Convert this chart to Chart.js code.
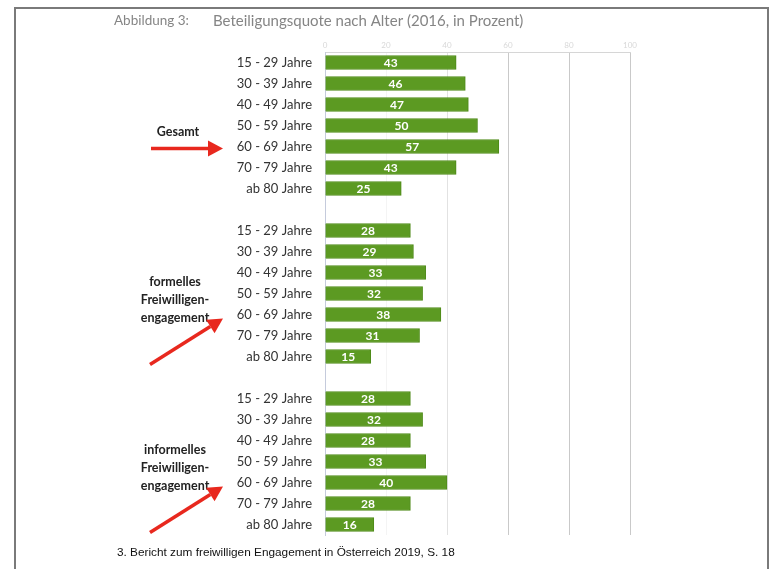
<!DOCTYPE html>
<html>
<head>
<meta charset="utf-8">
<script src="https://cdn.jsdelivr.net/npm/chart.js@4"></script>
<style>
  body { margin: 0; background: #fff; }
  #wrap { width: 769px; height: 569px; position: relative; }
</style>
</head>
<body>
<div id="wrap"><canvas id="chart"></canvas></div>
<script>
// daten
var ageGroups = ["15 - 29 Jahre", "30 - 39 Jahre", "40 - 49 Jahre", "50 - 59 Jahre", "60 - 69 Jahre", "70 - 79 Jahre", "ab 80 Jahre"];
var gesamt = [43, 46, 47, 50, 57, 43, 25];
var formell = [28, 29, 33, 32, 38, 31, 15];
var informell = [28, 32, 28, 33, 40, 28, 16];
var groupNames = [["Gesamt"], ["formelles", "Freiwilligen-", "engagement"], ["informelles", "Freiwilligen-", "engagement"]];
var xTicks = [0, 20, 40, 60, 80, 100];
var title1 = "Abbildung 3:";
var title2 = "Beteiligungsquote nach Alter (2016, in Prozent)";
var footnote = "3. Bericht zum freiwilligen Engagement in \u00d6sterreich 2019, S. 18";

// kategorien + werte zusammenbauen (leere zeile zwischen den gruppen)
var labels = [];
var values = [];
[gesamt, formell, informell].forEach(function (g, i) {
    if (i > 0) { labels.push(""); values.push(null); }
    ageGroups.forEach(function (a, j) { labels.push(a); values.push(g[j]); });
});

var green = "#5c9a22";
var arrowRed = "#e8281e";

function arrow(ctx, x1, y1, x2, y2) {
    var ang = Math.atan2(y2 - y1, x2 - x1);
    var hl = 15, hw = 8;
    var bx = x2 - hl * Math.cos(ang), by = y2 - hl * Math.sin(ang);
    ctx.save();
    ctx.strokeStyle = arrowRed;
    ctx.fillStyle = arrowRed;
    ctx.lineWidth = 3.5;
    ctx.beginPath();
    ctx.moveTo(x1, y1);
    ctx.lineTo(bx, by);
    ctx.stroke();
    ctx.beginPath();
    ctx.moveTo(x2, y2);
    ctx.lineTo(bx + hw * Math.sin(ang), by - hw * Math.cos(ang));
    ctx.lineTo(bx - hw * Math.sin(ang), by + hw * Math.cos(ang));
    ctx.closePath();
    ctx.fill();
    ctx.restore();
}

var extras = {
    id: "extras",
    afterDatasetsDraw: function (chart) {
        var ctx = chart.ctx;
        var meta = chart.getDatasetMeta(0);
        ctx.save();
        ctx.fillStyle = "#ffffff";
        ctx.font = "bold 12px Lato";
        ctx.textAlign = "center";
        ctx.textBaseline = "middle";
        meta.data.forEach(function (bar, i) {
            var v = values[i];
            if (v == null) return;
            ctx.fillText(v, (bar.x + bar.base) / 2, bar.y + 1);
        });
        ctx.restore();
    },
    afterDraw: function (chart) {
        var ctx = chart.ctx;
        var y = chart.scales.y;
        var left = chart.chartArea.left;
        ctx.save();
        // rahmen
        ctx.strokeStyle = "#7a7a7a";
        ctx.lineWidth = 2;
        ctx.beginPath();
        ctx.moveTo(15, 569);
        ctx.lineTo(15, 8);
        ctx.lineTo(768, 8);
        ctx.lineTo(768, 569);
        ctx.stroke();
        // titel
        ctx.fillStyle = "#858585";
        ctx.textBaseline = "middle";
        ctx.textAlign = "left";
        ctx.font = "13.5px Lato";
        ctx.fillText(title1, 114, 21);
        ctx.font = "15px Lato";
        ctx.fillText(title2, 213, 21);
        // quelle
        ctx.fillStyle = "#111";
        ctx.font = "11.8px 'Liberation Sans'";
        ctx.fillText(footnote, 117, 553);
        // gruppen + pfeile
        groupNames.forEach(function (lines, g) {
            var base = g * 8;
            var yMid = y.getPixelForValue(base + 3) + 6;
            var lh = 18;
            var y0 = yMid - (lines.length - 1) * lh / 2;
            ctx.textAlign = "center";
            ctx.font = "bold 12.5px Lato";
            ctx.fillStyle = "#222";
            lines.forEach(function (t, k) {
                ctx.fillText(t, g === 0 ? 178 : 175, y0 + k * lh);
            });
            var ty = y.getPixelForValue(base + 4);
            var tx = left - 102;
            if (g === 0) arrow(ctx, tx - 72, ty + 2, tx, ty + 2);
            else arrow(ctx, tx - 73, ty + 50, tx, ty + 4);
        });
        ctx.restore();
    }
};

var ctx = document.getElementById("chart").getContext("2d");
var chart = new Chart(ctx, {
    type: "bar",
    data: {
        labels: labels,
        datasets: [{
            data: values,
            backgroundColor: green,
            borderColor: "#4e8a18",
            borderWidth: 1,
            barThickness: 14
        }]
    },
    options: {
        indexAxis: "y",
        responsive: true,
        maintainAspectRatio: false,
        animation: false,
        layout: { padding: { top: 38, right: 139, bottom: 34, left: 0 } },
        plugins: { legend: { display: false }, tooltip: { enabled: false } },
        scales: {
            x: {
                position: "top",
                min: 0,
                max: 100,
                afterBuildTicks: function (s) { s.ticks = xTicks.map(function (v) { return { value: v }; }); },
                afterFit: function (s) { s.height = 14; },
                ticks: { color: "#d8d8d8", font: { size: 8, family: "Lato" }, padding: 2 },
                grid: {
                    drawTicks: false,
                    color: function (c) {
                        if (c.tick && c.tick.value === 40) return "#e2e2e2";
                        if (c.tick && c.tick.value === 20) return "#f4f4f4";
                        return "#c9c9c9";
                    }
                },
                border: { color: "#d6d6d6" }
            },
            y: {
                afterFit: function (s) { s.width = 325; },
                ticks: { color: "#333", font: { size: 13, family: "Lato" }, padding: 13, autoSkip: false },
                grid: { display: false, drawTicks: false },
                border: { display: true, color: "#c5cbdc" }
            }
        }
    },
    plugins: [extras]
});
</script>
</body>
</html>
